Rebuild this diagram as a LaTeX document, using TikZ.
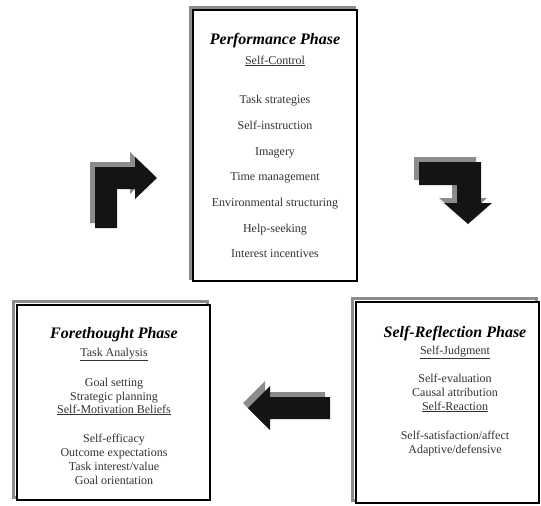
\documentclass[tikz,border=0pt]{standalone}
\usepackage{fontspec}
\setmainfont{Liberation Serif}
\begin{document}
\begin{tikzpicture}[x=1pt,y=-1pt,
  boxframe/.style={draw=black, line width=2.2pt, fill=white},
  boxshadow/.style={draw=black!45, line width=3pt},
  arrowbody/.style={fill=black!92, draw=none},
  arrowshadow/.style={fill=black!45, draw=none},
  title/.style={anchor=base, inner sep=0pt, font=\fontsize{16}{18}\selectfont\bfseries\itshape, text=black},
  item/.style={anchor=base, inner sep=0pt, font=\fontsize{12}{14}\selectfont, text=black!80}]
\useasboundingbox (0,0) rectangle (541,506);

% ---- boxes ----
\draw[boxshadow] (190,7) rectangle (354,278);
\draw[boxframe] (193,10) rectangle (357,281);
\draw[boxshadow] (13,301) rectangle (207,497);
\draw[boxframe] (17,305) rectangle (210,500);
\draw[boxshadow] (352,298) rectangle (536,500);
\draw[boxframe] (356,302) rectangle (539,503);

% ---- Performance phase ----
\node[title] (pt) at (275,44) {Performance Phase};
\node[item] (p0) at (275,64) {\underline{Self-Control}};
\node[item] (p1) at (275,103) {Task strategies};
\node[item] (p2) at (275,129) {Self-instruction};
\node[item] (p3) at (275,155) {Imagery};
\node[item] (p4) at (275,180) {Time management};
\node[item] (p5) at (275,206) {Environmental structuring};
\node[item] (p6) at (275,232) {Help-seeking};
\node[item] (p7) at (275,257) {Interest incentives};

% ---- Forethought phase ----
\node[title] (ft) at (114,338) {Forethought Phase};
\node[item] (f0) at (114,356) {\underline{Task Analysis}};
\node[item] (f1) at (114,386) {Goal setting};
\node[item] (f2) at (114,400) {Strategic planning};
\node[item] (f3) at (114,413) {\underline{Self-Motivation Beliefs}};
\node[item] (f4) at (114,442) {Self-efficacy};
\node[item] (f5) at (114,456) {Outcome expectations};
\node[item] (f6) at (114,470) {Task interest/value};
\node[item] (f7) at (114,484) {Goal orientation};

% ---- Self-reflection phase ----
\node[title] (rt) at (455,337) {Self-Reflection Phase};
\node[item] (r0) at (455,354) {\underline{Self-Judgment}};
\node[item] (r1) at (455,382) {Self-evaluation};
\node[item] (r2) at (455,396) {Causal attribution};
\node[item] (r3) at (455,410) {\underline{Self-Reaction}};
\node[item] (r4) at (455,439) {Self-satisfaction/affect};
\node[item] (r5) at (455,453) {Adaptive/defensive};

% ---- arrow 1 (up then right) ----
\begin{scope}[shift={(-5,-5)}]
\fill[arrowshadow] (95,228) -- (95,167) -- (135,167) -- (135,157) -- (157,178) -- (135,199) -- (135,189) -- (117,189) -- (117,228) -- cycle;
\end{scope}
\fill[arrowbody] (95,228) -- (95,167) -- (135,167) -- (135,157) -- (157,178) -- (135,199) -- (135,189) -- (117,189) -- (117,228) -- cycle;

% ---- arrow 2 (right then down) ----
\begin{scope}[shift={(-5,-5)}]
\fill[arrowshadow] (419,162) -- (481,162) -- (481,203) -- (492,203) -- (468,224) -- (444,203) -- (457,203) -- (457,185) -- (419,185) -- cycle;
\end{scope}
\fill[arrowbody] (419,162) -- (481,162) -- (481,203) -- (492,203) -- (468,224) -- (444,203) -- (457,203) -- (457,185) -- (419,185) -- cycle;

% ---- arrow 3 (left) ----
\begin{scope}[shift={(-5,-5)}]
\fill[arrowshadow] (330,397) -- (330,419) -- (270,419) -- (270,430) -- (248,408) -- (270,386) -- (270,397) -- cycle;
\end{scope}
\fill[arrowbody] (330,397) -- (330,419) -- (270,419) -- (270,430) -- (248,408) -- (270,386) -- (270,397) -- cycle;
\end{tikzpicture}
\end{document}
